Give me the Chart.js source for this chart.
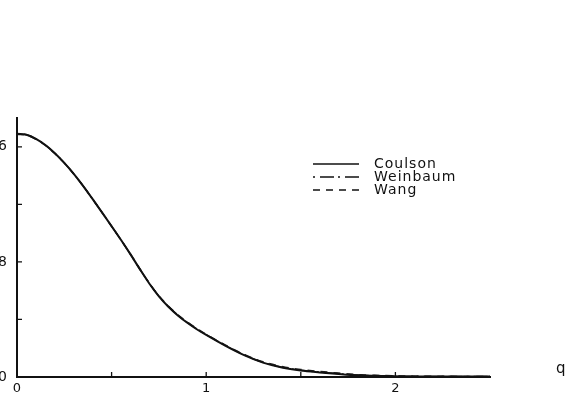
<!DOCTYPE html>
<html>
<head>
<meta charset="utf-8">
<script src="https://cdn.jsdelivr.net/npm/chart.js@4.4.0/dist/chart.umd.min.js"></script>
<style>
  html, body { margin: 0; padding: 0; background: #fff; }
  #wrap { position: relative; width: 574px; height: 397px; }
</style>
</head>
<body>
<div id="wrap"><canvas id="chart" width="574" height="397"></canvas></div>
<script>
  // momentum q (x) and profile values
  const qValues = [0, 0.05, 0.1, 0.15, 0.2, 0.25, 0.3, 0.35, 0.4, 0.45, 0.5, 0.55, 0.6, 0.65, 0.7, 0.75, 0.8, 0.85, 0.9, 0.95,
                   1.0, 1.1, 1.2, 1.3, 1.4, 1.5, 1.6, 1.7, 1.8, 2.0, 2.2, 2.5];

  const coulson  = [1.690, 1.683, 1.655, 1.612, 1.555, 1.488, 1.412, 1.327, 1.236, 1.142, 1.048, 0.952, 0.852, 0.748, 0.648, 0.560, 0.488, 0.428, 0.377, 0.332,
                    0.292, 0.218, 0.152, 0.100, 0.066, 0.045, 0.032, 0.021, 0.012, 0.005, 0.003, 0.003];
  const weinbaum = [1.690, 1.683, 1.655, 1.612, 1.555, 1.488, 1.412, 1.327, 1.236, 1.142, 1.048, 0.952, 0.852, 0.749, 0.650, 0.562, 0.490, 0.430, 0.379, 0.334,
                    0.294, 0.220, 0.154, 0.102, 0.068, 0.047, 0.034, 0.023, 0.014, 0.006, 0.004, 0.003];
  const wang     = [1.686, 1.680, 1.652, 1.610, 1.553, 1.487, 1.411, 1.327, 1.236, 1.142, 1.048, 0.952, 0.853, 0.750, 0.651, 0.564, 0.493, 0.433, 0.382, 0.337,
                    0.297, 0.223, 0.158, 0.106, 0.073, 0.052, 0.039, 0.027, 0.017, 0.008, 0.005, 0.004];

  const seriesNames = ['Coulson', 'Weinbaum', 'Wang'];

  const xTickValues = [0, 0.5, 1, 1.5, 2];
  const xLabelValues = [0, 1, 2];
  const yTickValues = [0, 0.4, 0.8, 1.2, 1.6];
  const yLabelValues = [0, 0.8, 1.6];

  const toPoints = arr => arr.map((v, i) => ({ x: qValues[i], y: v }));

  const FONT = 'DejaVu Sans';

  // inner tick marks, legend and the "q" axis name
  const decorPlugin = {
    id: 'decor',
    afterDraw(chart) {
      const ctx = chart.ctx;
      const xs = chart.scales.x;
      const ys = chart.scales.y;
      const area = chart.chartArea;
      ctx.save();
      ctx.strokeStyle = '#111';
      ctx.lineWidth = 1.3;
      ctx.beginPath();
      xTickValues.forEach(v => {
        if (v === 0) return;
        const px = xs.getPixelForValue(v);
        ctx.moveTo(px, area.bottom);
        ctx.lineTo(px, area.bottom - 5);
      });
      yTickValues.forEach(v => {
        if (v === 0) return;
        const py = ys.getPixelForValue(v);
        ctx.moveTo(area.left, py);
        ctx.lineTo(area.left + 5, py);
      });
      ctx.stroke();

      // legend
      const lx = area.left + 296;
      const ly = area.top + 46;
      ctx.font = '14px "' + FONT + '"';
      ctx.letterSpacing = '1px';
      ctx.textBaseline = 'middle';
      ctx.fillStyle = '#111';
      chart.data.datasets.forEach((ds, i) => {
        const y = ly + i * 13;
        ctx.beginPath();
        ctx.setLineDash(ds.borderDash || []);
        ctx.lineWidth = 1.5;
        ctx.moveTo(lx, y);
        ctx.lineTo(lx + 46, y);
        ctx.stroke();
        ctx.setLineDash([]);
        ctx.fillText(ds.label, lx + 61, y);
      });

      // axis name
      ctx.letterSpacing = '0px';
      ctx.font = '15px "' + FONT + '"';
      ctx.fillText('q', area.right + 66, area.bottom - 8);
      ctx.restore();
    }
  };

  new Chart(document.getElementById('chart'), {
    type: 'line',
    data: {
      datasets: [
        {
          label: seriesNames[0],
          data: toPoints(coulson),
          borderColor: '#111',
          borderWidth: 2,
          pointRadius: 0,
          cubicInterpolationMode: 'monotone'
        },
        {
          label: seriesNames[1],
          data: toPoints(weinbaum),
          borderColor: '#222',
          borderWidth: 1.5,
          borderDash: [2, 5, 14, 4],
          pointRadius: 0,
          cubicInterpolationMode: 'monotone'
        },
        {
          label: seriesNames[2],
          data: toPoints(wang),
          borderColor: '#222',
          borderWidth: 1.5,
          borderDash: [7, 6],
          pointRadius: 0,
          cubicInterpolationMode: 'monotone'
        }
      ]
    },
    options: {
      responsive: false,
      animation: false,
      layout: {
        padding: { top: 118, right: 84, bottom: 0, left: 0 }
      },
      plugins: {
        legend: { display: false },
        tooltip: { enabled: false }
      },
      scales: {
        x: {
          type: 'linear',
          min: 0,
          max: 2.5,
          afterBuildTicks: scale => { scale.ticks = xTickValues.map(v => ({ value: v })); },
          afterFit: scale => { scale.height = 20; },
          grid: { display: false, drawTicks: false },
          border: { display: true, color: '#111', width: 2 },
          ticks: {
            color: '#111',
            padding: 4,
            autoSkip: false,
            maxRotation: 0,
            font: { family: FONT, size: 13 },
            callback: v => xLabelValues.includes(v) ? String(v) : ''
          }
        },
        y: {
          type: 'linear',
          min: 0,
          max: 1.8,
          afterBuildTicks: scale => { scale.ticks = yTickValues.map(v => ({ value: v })); },
          afterFit: scale => { scale.width = 17; },
          grid: { display: false, drawTicks: false },
          border: { display: true, color: '#111', width: 2 },
          ticks: {
            color: '#111',
            padding: 10,
            autoSkip: false,
            font: { family: FONT, size: 14 },
            callback: v => yLabelValues.includes(v) ? (v === 0 ? '0' : v.toFixed(1)) : ''
          }
        }
      }
    },
    plugins: [decorPlugin]
  });
</script>
</body>
</html>
